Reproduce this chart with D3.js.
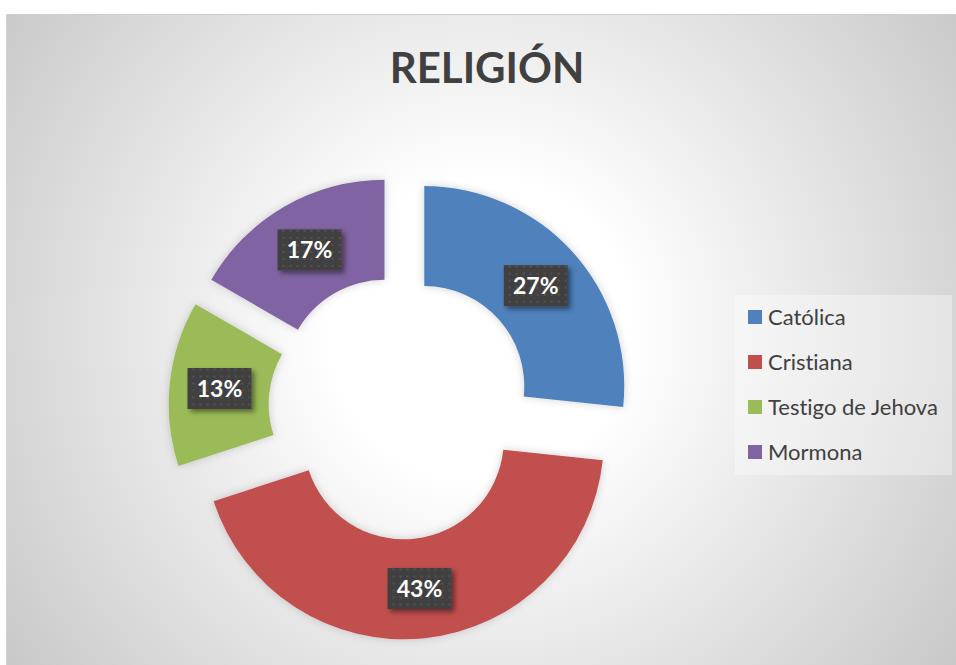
<!DOCTYPE html>
<html>
<head>
<meta charset="utf-8">
<script src="https://cdn.jsdelivr.net/npm/d3@7"></script>
<style>
  html, body { margin: 0; padding: 0; background: #ffffff; }
  svg { display: block; }
  text { font-variant-ligatures: none; font-feature-settings: "liga" 0; }
</style>
</head>
<body>
<svg id="chart" width="956" height="665"></svg>
<script>
// ---- Data ----
const title = "RELIGIÓN";
const categories = ["Católica", "Cristiana", "Testigo de Jehova", "Mormona"];
const values = [8, 13, 4, 5];
const colors = ["#4F81BD", "#C0504D", "#9BBB59", "#8064A2"];

// ---- Layout ----
const W = 956, H = 665;
const svg = d3.select("#chart");
const defs = svg.append("defs");

const bg = defs.append("radialGradient")
  .attr("id", "bg").attr("gradientUnits", "userSpaceOnUse")
  .attr("cx", 481).attr("cy", 330).attr("r", 600);
bg.append("stop").attr("offset", 0).attr("stop-color", "#ffffff");
bg.append("stop").attr("offset", 0.25).attr("stop-color", "#ffffff");
bg.append("stop").attr("offset", 1).attr("stop-color", "#c6c6c6");

const pat = defs.append("pattern")
  .attr("id", "dots").attr("patternUnits", "userSpaceOnUse")
  .attr("width", 7).attr("height", 7);
pat.append("rect").attr("width", 7).attr("height", 7).attr("fill", "#404040");
pat.append("circle").attr("cx", 2).attr("cy", 2).attr("r", 1.1).attr("fill", "#575757");

const sh = defs.append("filter").attr("id", "sliceShadow")
  .attr("x", "-20%").attr("y", "-20%").attr("width", "140%").attr("height", "140%");
sh.append("feDropShadow").attr("dx", 0).attr("dy", 0).attr("stdDeviation", 4)
  .attr("flood-color", "#000").attr("flood-opacity", 0.18);

const bsh = defs.append("filter").attr("id", "boxShadow")
  .attr("x", "-30%").attr("y", "-30%").attr("width", "160%").attr("height", "160%");
bsh.append("feDropShadow").attr("dx", 3).attr("dy", 3).attr("stdDeviation", 2.5)
  .attr("flood-color", "#000").attr("flood-opacity", 0.45);

// chart area
svg.append("rect").attr("x", 6).attr("y", 14).attr("width", W - 6).attr("height", H - 14)
  .attr("fill", "url(#bg)");
svg.append("line").attr("x1", 6).attr("x2", W).attr("y1", 14.5).attr("y2", 14.5)
  .attr("stroke", "#cfcfcf").attr("stroke-width", 1);
svg.append("line").attr("x1", 6.5).attr("x2", 6.5).attr("y1", 14).attr("y2", H)
  .attr("stroke", "#d4d4d4").attr("stroke-width", 1);

// title
svg.append("text").attr("x", 487).attr("y", 83)
  .attr("text-anchor", "middle")
  .attr("font-family", "Lato, 'Open Sans', sans-serif")
  .attr("font-weight", "bold").attr("font-size", 42)
  .attr("fill", "#404040").text(title);

// donut
const cx = 400.5, cy = 407.5, R = 200, r = 100, explode = 32;
const total = d3.sum(values);
const pie = d3.pie().sort(null).value(d => d)(values);
const arc = d3.arc().innerRadius(r).outerRadius(R);
const g = svg.append("g").attr("transform", `translate(${cx},${cy})`);

const slices = g.selectAll("g.slice").data(pie).join("g")
  .attr("class", "slice")
  .attr("transform", d => {
    const a = (d.startAngle + d.endAngle) / 2;
    return `translate(${explode * Math.sin(a)},${-explode * Math.cos(a)})`;
  });
slices.append("path").attr("d", arc)
  .attr("fill", (d, i) => colors[i])
  .attr("filter", "url(#sliceShadow)");

// labels
const labelArc = d3.arc().innerRadius((R + r) / 2).outerRadius((R + r) / 2);
slices.each(function (d, i) {
  const [lx, ly] = labelArc.centroid(d);
  const lg = d3.select(this).append("g").attr("transform", `translate(${lx},${ly})`);
  const txt = Math.round(values[i] / total * 100) + "%";
  const rect = lg.append("rect").attr("fill", "url(#dots)").attr("filter", "url(#boxShadow)");
  const t = lg.append("text").attr("text-anchor", "middle").attr("dy", "0.36em")
    .attr("font-family", "Lato, 'Open Sans', sans-serif")
    .attr("font-weight", "bold").attr("font-size", 23)
    .attr("fill", "#ffffff").text(txt);
  const bw = 64, bh = 41;
  rect.attr("x", -bw / 2).attr("y", -bh / 2).attr("width", bw).attr("height", bh);
});

// legend
const lgX = 735, lgY = 295;
svg.append("rect").attr("x", lgX).attr("y", lgY).attr("width", 217).attr("height", 180)
  .attr("fill", "#ffffff").attr("fill-opacity", 0.35);
const items = svg.selectAll("g.leg").data(categories).join("g")
  .attr("class", "leg")
  .attr("transform", (d, i) => `translate(748,${317 + i * 45})`);
items.append("rect").attr("x", 0).attr("y", -7).attr("width", 14).attr("height", 14)
  .attr("fill", (d, i) => colors[i]);
items.append("text").attr("x", 20).attr("y", 0).attr("dy", "0.35em")
  .attr("font-family", "Lato, 'Open Sans', sans-serif")
  .attr("font-size", 22).attr("fill", "#404040").text(d => d);
</script>
</body>
</html>
